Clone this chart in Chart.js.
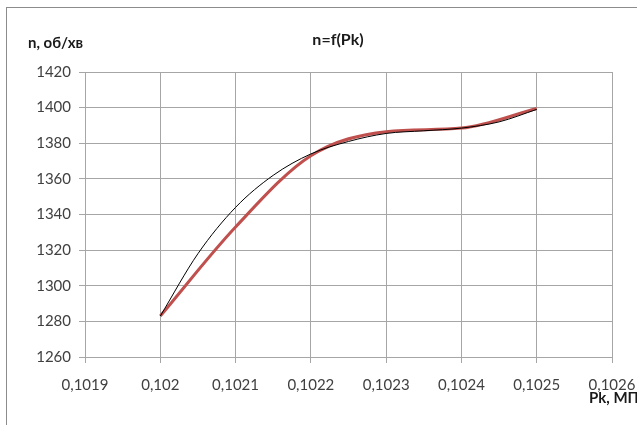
<!DOCTYPE html>
<html>
<head>
<meta charset="utf-8">
<script src="https://cdn.jsdelivr.net/npm/chart.js@4.4.1/dist/chart.umd.min.js"></script>
<style>
  html, body { margin: 0; padding: 0; background: #fff; }
  #wrap { width: 637px; height: 425px; position: relative; }
</style>
</head>
<body>
<div id="wrap"><canvas id="chart" width="637" height="425"></canvas></div>
<script>
// виміряні точки
const pk = [0.1020, 0.1021, 0.1022, 0.1023, 0.1024, 0.1025];
const nValues = [1283, 1333, 1373, 1386.5, 1388.5, 1399.5];

// лінія тренду
const trendPk = [0.1020, 0.10205, 0.1021, 0.10215, 0.1022, 0.10225, 0.1023, 0.10235, 0.1024, 0.10245, 0.1025];
const trendN = [1283, 1318, 1344, 1362, 1374, 1381, 1385.5, 1387, 1388.5, 1392, 1399];

const xTicks = [0.1019, 0.1020, 0.1021, 0.1022, 0.1023, 0.1024, 0.1025, 0.1026];
const yTicks = [1260, 1280, 1300, 1320, 1340, 1360, 1380, 1400, 1420];

const chartTitle = 'n=f(Pk)';
const yTitle = 'n, об/хв';
const xTitle = 'Pk, МПа';

const toPoints = (xs, ys) => xs.map((x, i) => ({ x: x, y: ys[i] }));

const fmtX = v => Number(v.toFixed(4)).toString().replace('.', ',');

// рамка та підписи осей
const labelsPlugin = {
    id: 'labels',
    beforeDraw(chart) {
        const ctx = chart.ctx;
        ctx.save();
        ctx.strokeStyle = '#8c8c8c';
        ctx.lineWidth = 1;
        ctx.strokeRect(6.5, 7.5, 700, 500);
        ctx.restore();
    },
    afterDraw(chart) {
        const ctx = chart.ctx;
        ctx.save();
        ctx.fillStyle = '#1a1a1a';
        ctx.textBaseline = 'middle';
        ctx.font = 'bold 16px Lato';
        ctx.textAlign = 'center';
        ctx.fillText(chartTitle, 338, 40);
        ctx.font = 'bold 15px Lato';
        ctx.textAlign = 'left';
        ctx.fillText(yTitle, 28, 43);
        ctx.fillText(xTitle, 589, 398);
        ctx.restore();
    }
};

new Chart(document.getElementById('chart'), {
    type: 'line',
    data: {
        datasets: [{
            label: 'тренд',
            data: toPoints(trendPk, trendN),
            borderColor: '#000000',
            borderWidth: 1,
            pointRadius: 0,
            cubicInterpolationMode: 'monotone',
            order: 0
        }, {
            label: 'n',
            data: toPoints(pk, nValues),
            borderColor: '#c0504d',
            borderWidth: 3,
            pointRadius: 0,
            cubicInterpolationMode: 'monotone',
            order: 1
        }]
    },
    options: {
        responsive: false,
        animation: false,
        layout: { padding: { top: 72, right: 25, left: 0, bottom: 0 } },
        plugins: { legend: { display: false }, tooltip: { enabled: false }, title: { display: false } },
        scales: {
            x: {
                type: 'linear',
                min: 0.1019,
                max: 0.1026,
                afterBuildTicks: scale => { scale.ticks = xTicks.map(v => ({ value: v })); },
                afterFit: scale => { scale.height = 68; scale.paddingRight = 0; scale.paddingLeft = 0; },
                grid: { color: '#a6a6a6', tickLength: 6 },
                border: { color: '#a6a6a6' },
                ticks: {
                    font: { family: 'Lato', size: 15 },
                    color: '#404040',
                    padding: 13,
                    maxRotation: 0,
                    autoSkip: false,
                    callback: v => fmtX(v)
                }
            },
            y: {
                min: 1260,
                max: 1420,
                afterBuildTicks: scale => { scale.ticks = yTicks.map(v => ({ value: v })); },
                afterFit: scale => { scale.width = 85; },
                grid: { color: '#a6a6a6', tickLength: 6 },
                border: { color: '#a6a6a6' },
                ticks: {
                    font: { family: 'Lato', size: 15 },
                    color: '#404040',
                    padding: 8,
                    callback: v => String(v)
                }
            }
        }
    },
    plugins: [labelsPlugin]
});
</script>
</body>
</html>
